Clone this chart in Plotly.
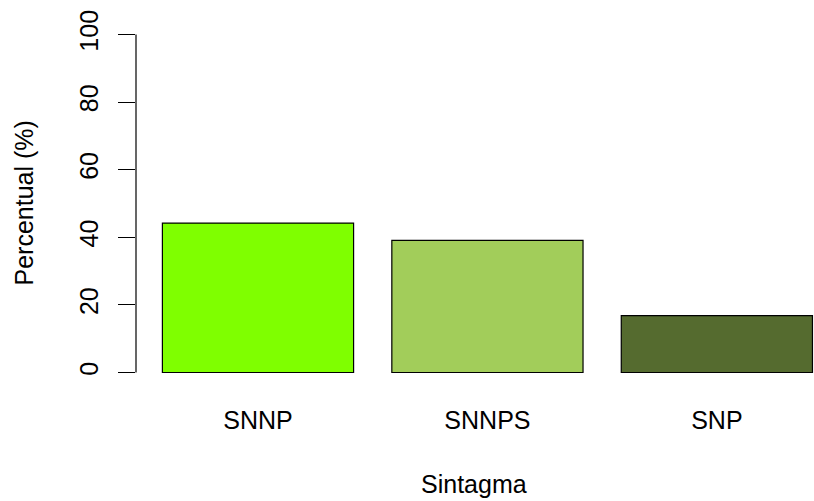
import plotly.graph_objects as go

categories = ["SNNP", "SNNPS", "SNP"]
values = [44.2, 39.1, 16.8]
colors = ["#7FFF00", "#A2CD5A", "#556B2F"]
y_ticks = [0, 20, 40, 60, 80, 100]
x_positions = [0.7, 1.9, 3.1]

FONT = "Liberation Sans, Arial, sans-serif"

fig = go.Figure()
fig.add_trace(go.Bar(
    x=x_positions, y=values, width=1.0,
    marker=dict(color=colors, line=dict(color="black", width=1.2)),
    showlegend=False,
))

fig.update_layout(
    width=814, height=501,
    margin=dict(l=136, r=0, t=21, b=115),
    plot_bgcolor="white", paper_bgcolor="white",
    font=dict(family=FONT, size=25, color="black"),
    xaxis=dict(
        range=[0.062, 3.608],
        tickvals=x_positions, ticktext=categories,
        ticks="outside", ticklen=12, tickcolor="rgba(0,0,0,0)",
        showline=False, showgrid=False, zeroline=False,
        tickfont=dict(size=25),
    ),
    yaxis=dict(
        range=[-4, 104],
        tickvals=y_ticks, ticktext=[str(v) for v in y_ticks],
        ticks="outside", ticklen=17, tickwidth=1.2, tickcolor="black",
        tickangle=-90, ticklabelstandoff=10,
        showline=False, showgrid=False, zeroline=False,
        tickfont=dict(size=25),
    ),
    shapes=[dict(type="line", xref="paper", yref="y", x0=0, x1=0,
                 y0=y_ticks[0], y1=y_ticks[-1],
                 line=dict(color="black", width=1.2))],
    annotations=[
        dict(text="Sintagma", xref="paper", yref="paper",
             x=(474 - 136) / (814 - 136), y=0, yshift=-98,
             showarrow=False, xanchor="center", yanchor="middle",
             font=dict(size=25)),
        dict(text="Percentual (%)", xref="paper", yref="paper",
             x=0, xshift=-113, y=0.5, textangle=-90,
             showarrow=False, xanchor="center", yanchor="middle",
             font=dict(size=25)),
    ],
)

fig.write_html(
    "out.html",
    config={"displayModeBar": False},
    post_script="document.body.style.margin='0';document.body.style.overflow='hidden';",
)
